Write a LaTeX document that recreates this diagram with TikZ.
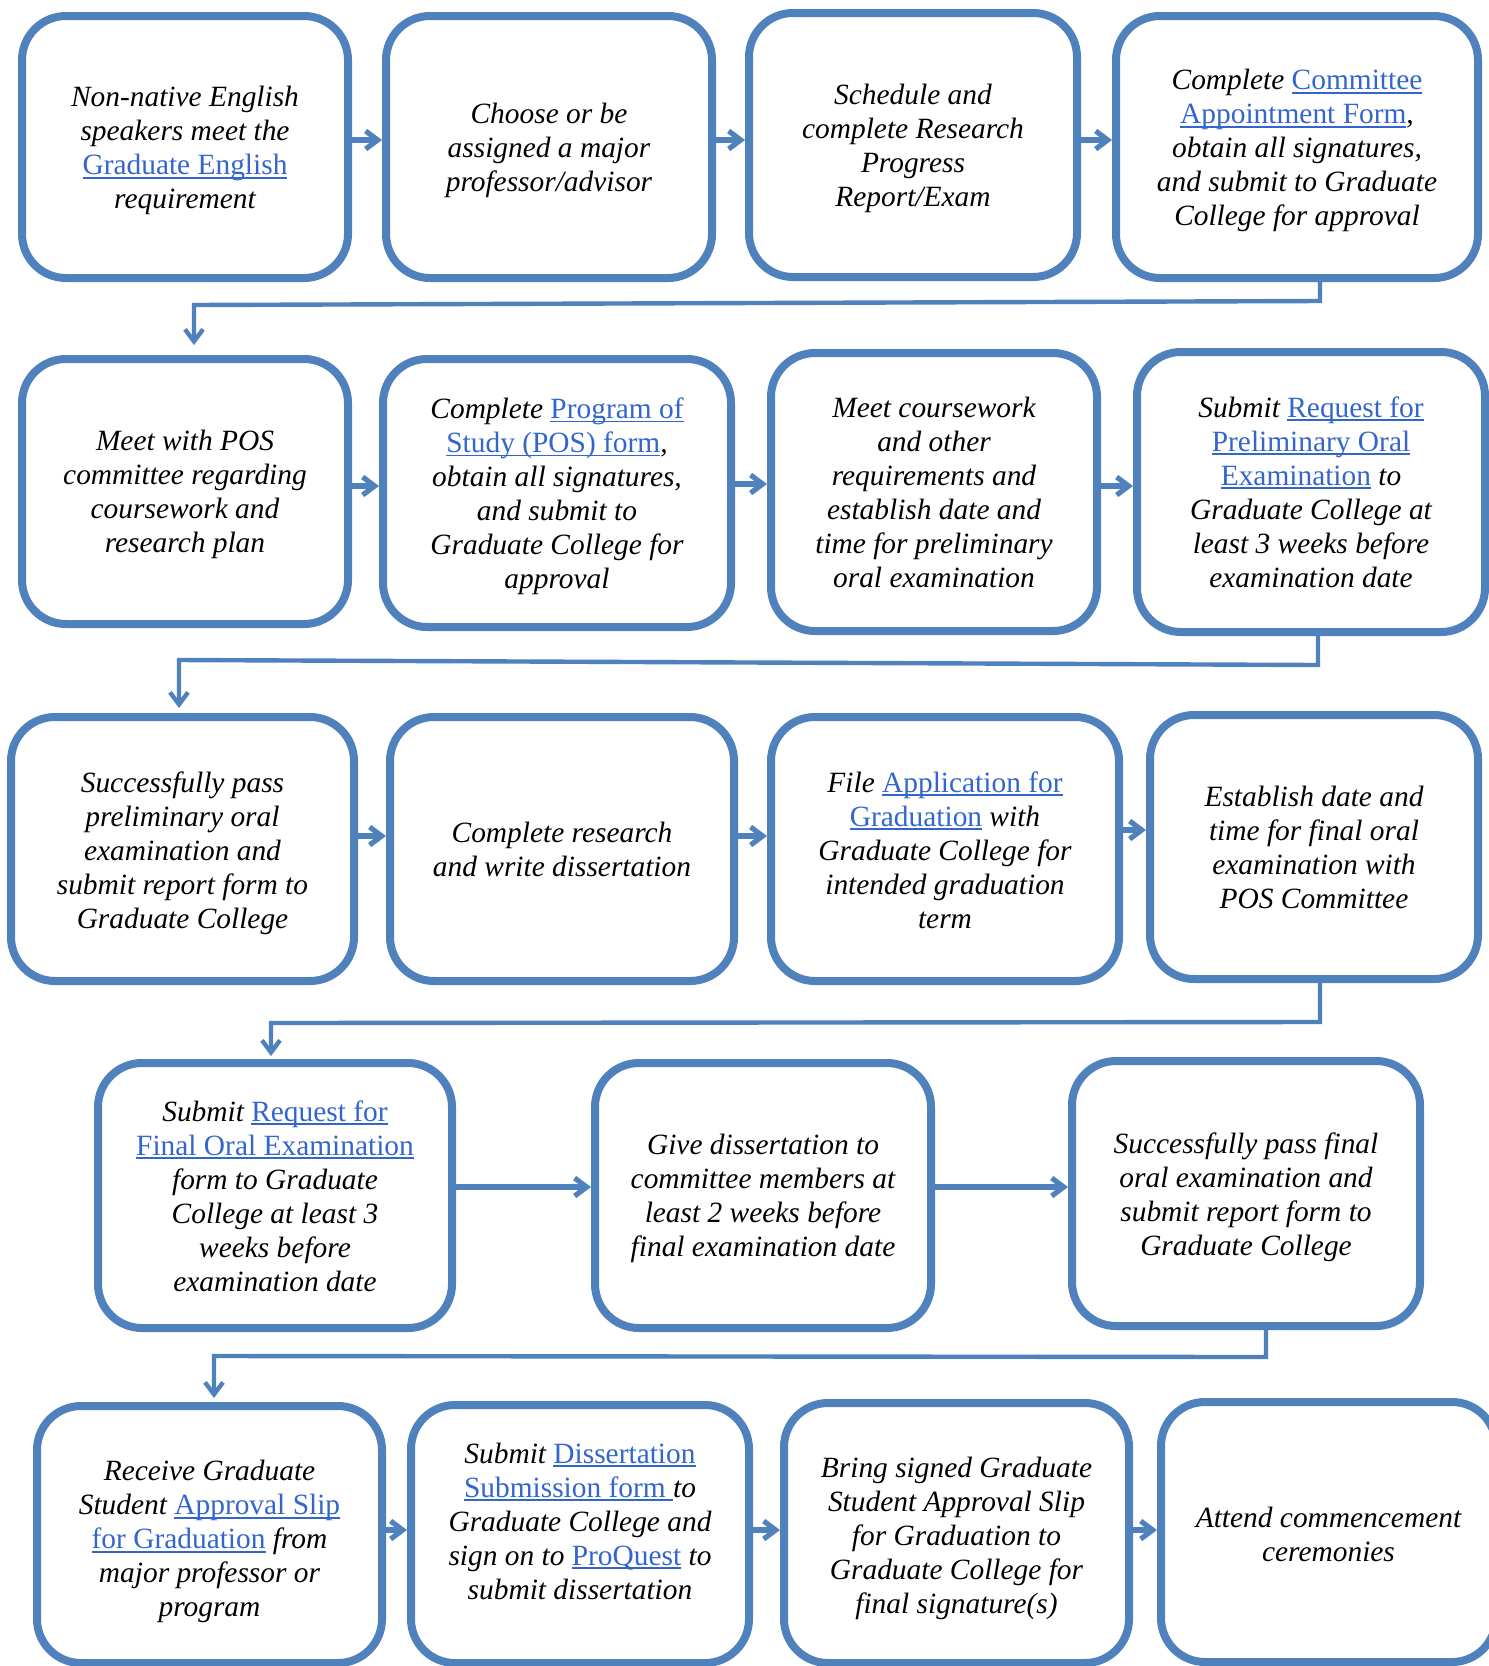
\documentclass[tikz,border=0pt]{standalone}
\usepackage{fontspec}
\setmainfont{Liberation Serif}
\usetikzlibrary{arrows.meta,calc}
\definecolor{boxblue}{RGB}{79,129,189}
\definecolor{linkblue}{RGB}{51,102,204}
\newcommand\lnk[1]{{\upshape\color{linkblue}\setbox0=\hbox{#1}\rlap{\rule[-2pt]{\wd0}{0.9pt}}\box0}}
\newcommand\boxfont{\itshape\fontsize{14.7pt}{17pt}\selectfont}
% #1 name, #2-#5 box corners (px), #6 text offset down (px), #7 text
\newcommand\mkbox[7]{%
  \node[stepbox, minimum width={(#4-#2)*0.5pt}, minimum height={(#5-#3)*0.5pt}] (#1) at ({(#2+#4)/2},{(#3+#5)/2}) {};
  \node[boxtext] (#1-t) at ($(#1.center)+(0,#6)$) {#7};}
\begin{document}
\begin{tikzpicture}[x=0.5pt,y=-0.5pt,
  stepbox/.style={draw=boxblue, line width=4pt, rounded corners=22pt, fill=white, inner sep=0pt},
  boxtext/.style={align=center, inner sep=0pt, font=\boxfont},
  rowarrow/.style={draw=boxblue, line width=2.6pt, -{Straight Barb[length=6pt,width=9pt]}},
  conn/.style={draw=boxblue, line width=2.2pt, -{Straight Barb[length=6pt,width=9pt]}}]
\useasboundingbox (0,0) rectangle (1489,1666);
\clip (0,0) rectangle (1489,1666);
\fill[white] (0,0) rectangle (1489,1666);
% row 1
\mkbox{b1}{22}{16}{348}{278}{3.7}{Non-native English\\ speakers meet the\\ \lnk{Graduate English}\\ requirement}
\mkbox{b2}{386}{16}{712}{278}{3.7}{Choose or be\\ assigned a major\\ professor/advisor}
\mkbox{b3}{749}{13}{1077}{277}{3.7}{Schedule and\\ complete Research\\ Progress\\ Report/Exam}
\mkbox{b4}{1116}{16}{1478}{278}{3.7}{Complete \lnk{Committee}\\ \lnk{Appointment Form}, \\ obtain all signatures,\\ and submit to Graduate\\ College for approval}
% row 2
\mkbox{b5}{22}{359}{348}{624}{2.7}{Meet with POS\\ committee regarding\\ coursework and\\ research plan}
\mkbox{b6}{383}{359}{731}{627}{3.2}{Complete \lnk{Program of}\\ \lnk{Study (POS) form}, \\ obtain all signatures,\\ and submit to\\ Graduate College for\\ approval}
\mkbox{b7}{771}{353}{1097}{631}{0}{Meet coursework\\ and other\\ requirements and\\ establish date and\\ time for preliminary\\ oral examination}
\mkbox{b8}{1137}{352}{1485}{632}{0}{Submit \lnk{Request for}\\ \lnk{Preliminary Oral}\\ \lnk{Examination} to\\ Graduate College at\\ least 3 weeks before\\ examination date}
% row 3
\mkbox{b9}{11}{717}{354}{981}{4.2}{Successfully pass\\ preliminary oral\\ examination and\\ submit report form to\\ Graduate College}
\mkbox{b10}{390}{717}{734}{981}{0.5}{Complete research\\ and write dissertation}
\mkbox{b11}{771}{717}{1119}{981}{1}{File \lnk{Application for}\\ \lnk{Graduation} with\\ Graduate College for\\ intended graduation\\ term}
\mkbox{b12}{1150}{715}{1478}{979}{0}{Establish date and\\ time for final oral\\ examination with\\ POS Committee}
% row 4
\mkbox{b13}{98}{1063}{452}{1328}{0.5}{Submit \lnk{Request for}\\ \lnk{Final Oral Examination}\\ form to Graduate\\ College at least 3\\ weeks before\\ examination date}
\mkbox{b14}{595}{1063}{931}{1328}{3.2}{Give dissertation to\\ committee members at\\ least 2 weeks before\\ final examination date}
\mkbox{b15}{1072}{1061}{1420}{1326}{3.7}{Successfully pass final\\ oral examination and\\ submit report form to\\ Graduate College}
% row 5
\mkbox{b16}{37}{1406}{382}{1663}{7.4}{Receive Graduate\\ Student \lnk{Approval Slip}\\ \lnk{for Graduation} from\\ major professor or\\ program}
\mkbox{b17}{411}{1405}{749}{1663}{-12.8}{Submit \lnk{Dissertation}\\ \lnk{Submission form\ }to\\ Graduate College and\\ sign on to \lnk{ProQuest} to\\ submit dissertation}
\mkbox{b18}{784}{1403}{1129}{1663}{5.3}{Bring signed Graduate\\ Student Approval Slip\\ for Graduation to\\ Graduate College for\\ final signature(s)}
\mkbox{b19}{1161}{1402}{1496}{1662}{2}{Attend commencement\\ ceremonies}
% row arrows
\draw[rowarrow] (b1.east |- 0,140) -- (b2.west |- 0,140);
\draw[rowarrow] (b2.east |- 0,140) -- (b3.west |- 0,140);
\draw[rowarrow] (b3.east |- 0,140) -- (b4.west |- 0,140);
\draw[rowarrow] (b5.east |- 0,486) -- (b6.west |- 0,486);
\draw[rowarrow] (b6.east |- 0,484) -- (b7.west |- 0,484);
\draw[rowarrow] (b7.east |- 0,486) -- (b8.west |- 0,486);
\draw[rowarrow] (b9.east |- 0,836) -- (b10.west |- 0,836);
\draw[rowarrow] (b10.east |- 0,836) -- (b11.west |- 0,836);
\draw[rowarrow] (b11.east |- 0,830) -- (b12.west |- 0,830);
\draw[rowarrow] (b13.east |- 0,1187) -- (b14.west |- 0,1187);
\draw[rowarrow] (b14.east |- 0,1187) -- (b15.west |- 0,1187);
\draw[rowarrow] (b16.east |- 0,1530) -- (b17.west |- 0,1530);
\draw[rowarrow] (b17.east |- 0,1530) -- (b18.west |- 0,1530);
\draw[rowarrow] (b18.east |- 0,1530) -- (b19.west |- 0,1530);
% row-to-row connectors
\coordinate (c1a) at (1320,301);
\coordinate (c1b) at (194,305);
\draw[conn, shorten >=5pt] (b4.south -| c1a) -- (c1a) -- (c1b) -- (c1b |- b5.north);
\coordinate (c2a) at (1318,665);
\coordinate (c2b) at (179,660);
\draw[conn, shorten >=2.5pt] (b8.south -| c2a) -- (c2a) -- (c2b) -- (c2b |- b9.north);
\coordinate (c3a) at (1320,1022);
\coordinate (c3b) at (271,1023);
\draw[conn, shorten >=1.5pt] (b12.south -| c3a) -- (c3a) -- (c3b) -- (c3b |- b13.north);
\coordinate (c4a) at (1266,1357);
\coordinate (c4b) at (214,1356);
\draw[conn, shorten >=2pt] (b15.south -| c4a) -- (c4a) -- (c4b) -- (c4b |- b16.north);
\end{tikzpicture}
\end{document}
